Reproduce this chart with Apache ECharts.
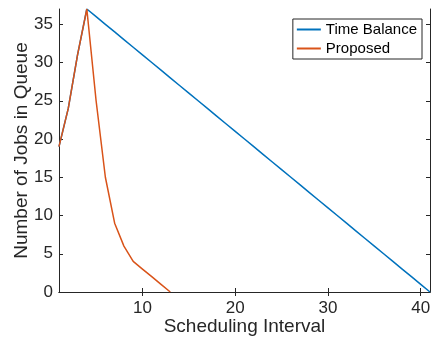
<!DOCTYPE html>
<html>
<head>
<meta charset="utf-8">
<script src="https://cdn.jsdelivr.net/npm/echarts@6/dist/echarts.min.js"></script>
<style>
  html, body { margin: 0; padding: 0; background: #fff; }
  #chart { width: 432px; height: 341px; }
</style>
</head>
<body>
<div id="chart"></div>
<script>
// scheduling interval index 1..41
var intervals = []
for (var i = 1; i <= 41; i++) intervals.push(i)

var timeBalance = [19, 24, 31, 37, 36, 35, 34, 33, 32, 31, 30, 29, 28, 27, 26, 25, 24, 23, 22, 21,
  20, 19, 18, 17, 16, 15, 14, 13, 12, 11, 10, 9, 8, 7, 6, 5, 4, 3, 2, 1, 0]
var proposed = [19, 24, 31, 37, 25, 15, 9, 6, 4, 3, 2, 1, 0]

var xTicks = [10, 20, 30, 40]
var yTicks = [0, 5, 10, 15, 20, 25, 30, 35]

var font = 'Liberation Sans, Arial, Helvetica, sans-serif'
var axisColor = '#262626'

function pairs (ys) {
  return ys.map(function (y, k) { return [intervals[k], y] })
}

var myChart = echarts.init(document.getElementById('chart'))
var option = {
  animation: false,
  grid: { left: 59, right: 2, top: 9, bottom: 49, containLabel: false, outerBoundsMode: 'none' },
  legend: {
    orient: 'vertical',
    right: 10,
    top: 19,
    itemWidth: 24,
    itemHeight: 2,
    itemGap: 4,
    padding: [3, 5, 3, 4],
    borderColor: axisColor,
    borderWidth: 1,
    backgroundColor: '#fff',
    icon: 'rect',
    textStyle: { fontFamily: font, fontSize: 15, color: '#000' },
    data: ['Time Balance', 'Proposed']
  },
  xAxis: [
    {
      type: 'value',
      min: 1,
      max: 41,
      name: 'Scheduling Interval',
      nameLocation: 'center',
      nameGap: 25,
      nameMoveOverlap: false,
      nameTextStyle: { fontFamily: font, fontSize: 19, color: '#262626' },
      axisLine: { lineStyle: { color: axisColor, width: 1 } },
      axisTick: { inside: true, length: 4, customValues: xTicks, lineStyle: { color: axisColor } },
      axisLabel: { customValues: xTicks, margin: 8, fontFamily: font, fontSize: 17, color: '#262626' },
      splitLine: { show: false }
    },
    {
      type: 'value',
      position: 'top',
      min: 1,
      max: 41,
      axisLine: { lineStyle: { color: axisColor, width: 1 } },
      axisTick: { inside: true, length: 4, customValues: xTicks, lineStyle: { color: axisColor } },
      axisLabel: { show: false },
      splitLine: { show: false }
    }
  ],
  yAxis: [
    {
      type: 'value',
      min: 0,
      max: 37,
      name: 'Number of Jobs in Queue',
      nameLocation: 'center',
      nameGap: 28,
      nameMoveOverlap: false,
      nameTextStyle: { fontFamily: font, fontSize: 19, color: '#262626' },
      axisLine: { show: true, lineStyle: { color: axisColor, width: 1 } },
      axisTick: { show: true, inside: true, length: 4, customValues: yTicks, lineStyle: { color: axisColor } },
      axisLabel: { customValues: yTicks, margin: 6, fontFamily: font, fontSize: 17, color: '#262626' },
      splitLine: { show: false }
    },
    {
      type: 'value',
      position: 'right',
      min: 0,
      max: 37,
      axisLine: { show: true, lineStyle: { color: axisColor, width: 1 } },
      axisTick: { show: true, inside: true, length: 4, customValues: yTicks, lineStyle: { color: axisColor } },
      axisLabel: { show: false },
      splitLine: { show: false }
    }
  ],
  series: [
    {
      name: 'Time Balance',
      type: 'line',
      data: pairs(timeBalance),
      showSymbol: false,
      lineStyle: { color: '#0072BD', width: 1.5 },
      itemStyle: { color: '#0072BD' },
      z: 2
    },
    {
      name: 'Proposed',
      type: 'line',
      data: pairs(proposed),
      showSymbol: false,
      lineStyle: { color: '#D95319', width: 1.5 },
      itemStyle: { color: '#D95319' },
      z: 3
    }
  ]
}
myChart.setOption(option)
</script>
</body>
</html>
